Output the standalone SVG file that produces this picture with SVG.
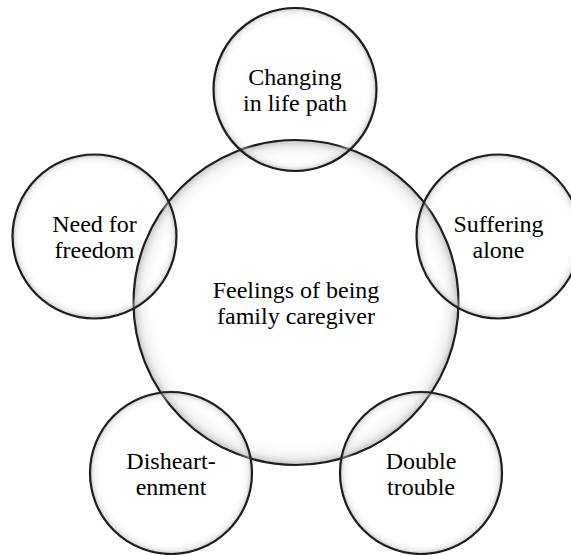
<svg xmlns="http://www.w3.org/2000/svg" width="571" height="555" viewBox="0 0 571 555">
  <defs>
    <radialGradient id="shade" cx="0.5" cy="0.5" r="0.5">
      <stop offset="0" stop-color="#ffffff" stop-opacity="0"/>
      <stop offset="0.86" stop-color="#ffffff" stop-opacity="0"/>
      <stop offset="0.95" stop-color="#d8d8d8" stop-opacity="0.35"/>
      <stop offset="1" stop-color="#9a9a9a" stop-opacity="0.6"/>
    </radialGradient>
    <style>
      .c { fill: url(#shade); stroke: #1e1e1e; stroke-width: 2.2; }
      .t { font-family: "Liberation Serif", "Times New Roman", serif; font-size: 24px; fill: #000; text-anchor: middle; }
    </style>
  </defs>
  <rect width="571" height="555" fill="#ffffff"/>
  <g id="center">
    <circle class="c" cx="296" cy="302.5" r="162.5"/>
    <text class="t" x="296" y="298">Feelings of being</text>
    <text class="t" x="296" y="324">family caregiver</text>
  </g>
  <g id="changing">
    <circle class="c" cx="295" cy="89.5" r="81.5"/>
    <text class="t" x="295" y="85">Changing</text>
    <text class="t" x="295" y="111">in life path</text>
  </g>
  <g id="freedom">
    <circle class="c" cx="94.5" cy="236.5" r="82"/>
    <text class="t" x="94.5" y="232">Need for</text>
    <text class="t" x="94.5" y="258">freedom</text>
  </g>
  <g id="suffering">
    <circle class="c" cx="498.5" cy="236.5" r="82"/>
    <text class="t" x="498.5" y="232">Suffering</text>
    <text class="t" x="498.5" y="258">alone</text>
  </g>
  <g id="disheartenment">
    <circle class="c" cx="171" cy="473" r="81"/>
    <text class="t" x="171" y="469">Disheart-</text>
    <text class="t" x="171" y="495">enment</text>
  </g>
  <g id="double">
    <circle class="c" cx="421" cy="473" r="81"/>
    <text class="t" x="421" y="469">Double</text>
    <text class="t" x="421" y="495">trouble</text>
  </g>
  <g id="connectors"/>
</svg>
